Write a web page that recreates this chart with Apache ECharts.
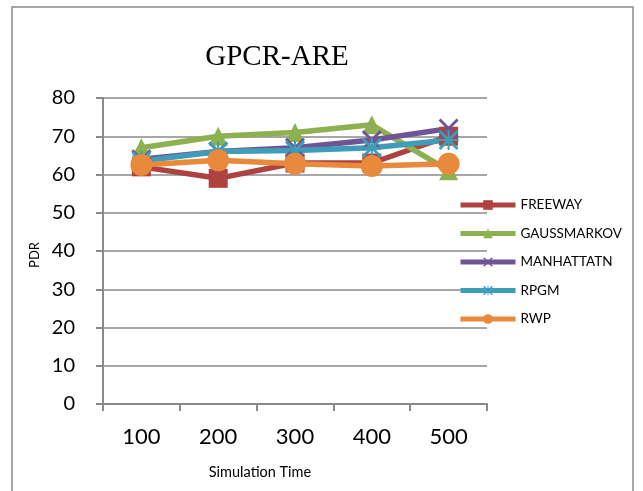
<!DOCTYPE html>
<html>
<head>
<meta charset="utf-8">
<script src="https://cdn.jsdelivr.net/npm/echarts@6/dist/echarts.min.js"></script>
<style>
  html, body { margin: 0; padding: 0; background: #fff; }
  #chart { width: 643px; height: 491px; }
</style>
</head>
<body>
<div id="chart"></div>
<script>
// Simulation time categories and PDR per mobility model
const categories = ['100', '200', '300', '400', '500'];
const freeway     = [62, 59, 63, 63, 70];
const gaussMarkov = [67, 70, 71, 73, 61];
const manhattan   = [64, 66, 67, 69, 72];
const rpgm        = [63.5, 66, 66.3, 67, 69];
const rwp         = [62.5, 63.7, 62.8, 62.2, 62.8];

const seriesNames = ['FREEWAY', 'GAUSSMARKOV', 'MANHATTATN', 'RPGM', 'RWP'];
const seriesData = [freeway, gaussMarkov, manhattan, rpgm, rwp];
const colors = ['#AE423F', '#8DB050', '#6F5595', '#3F9DB8', '#E8893B'];

// Marker shapes: square, triangle, X cross, asterisk, circle
const crossPath = 'path://M2,0 L10,8 L18,0 L20,2 L12,10 L20,18 L18,20 L10,12 L2,20 L0,18 L8,10 L0,2 Z';
const starPath = 'path://M2,0 L10,8 L18,0 L20,2 L12,10 L20,18 L18,20 L10,12 L2,20 L0,18 L8,10 L0,2 Z M9,0 L11,0 L11,20 L9,20 Z M0,9 L20,9 L20,11 L0,11 Z';
const symbols = ['rect', 'triangle', crossPath, starPath, 'circle'];
const symbolSizes = [19, 19, 20, 20, 22];

const chart = echarts.init(document.getElementById('chart'));

chart.setOption({
  animation: false,
  backgroundColor: '#fff',
  color: colors,
  title: {
    text: 'GPCR-ARE',
    left: 272,
    top: 38,
    textAlign: 'center',
    textStyle: {
      fontFamily: 'Liberation Serif',
      fontWeight: 'normal',
      fontSize: 29,
      color: '#000'
    }
  },
  graphic: [
    {
      type: 'rect',
      shape: { x: 12, y: 7, width: 621, height: 500 },
      style: { fill: 'none', stroke: '#8a8a8a', lineWidth: 1.5 },
      silent: true
    },
    {
      type: 'text',
      x: 260, y: 472,
      style: {
        text: 'Simulation Time',
        fontFamily: 'Lato',
        fontSize: 14.5,
        fill: '#000',
        align: 'center',
        verticalAlign: 'middle'
      }
    },
    {
      type: 'text',
      x: 35, y: 255,
      rotation: Math.PI / 2,
      style: {
        text: 'PDR',
        fontFamily: 'Lato',
        fontSize: 13,
        fill: '#000',
        align: 'center',
        verticalAlign: 'middle'
      }
    }
  ],
  legend: {
    orient: 'vertical',
    left: 458,
    top: 198,
    padding: 0,
    itemGap: 14.5,
    itemWidth: 55,
    itemHeight: 12,
    lineStyle: { width: 5 },
    data: seriesNames,
    textStyle: { fontFamily: 'Lato', fontSize: 13.5, color: '#000' }
  },
  grid: { left: 103, right: 156, top: 98, bottom: 87 },
  xAxis: {
    type: 'category',
    data: categories,
    boundaryGap: true,
    axisLine: { lineStyle: { color: '#8a8a8a', width: 2 } },
    axisTick: { show: true, inside: false, length: 7, lineStyle: { color: '#8a8a8a', width: 2 } },
    axisLabel: { fontFamily: 'Lato', fontSize: 22, color: '#000', margin: 22 },
    splitLine: { show: false }
  },
  yAxis: {
    type: 'value',
    min: 0,
    max: 80,
    interval: 10,
    axisLine: { show: true, lineStyle: { color: '#8a8a8a', width: 2 } },
    axisTick: { show: true, inside: false, length: 7, lineStyle: { color: '#8a8a8a', width: 2 } },
    axisLabel: { fontFamily: 'Lato', fontSize: 20, color: '#000', margin: 28 },
    splitLine: { show: true, lineStyle: { color: '#8a8a8a', width: 1.5 } }
  },
  series: seriesNames.map((name, i) => ({
    name: name,
    type: 'line',
    data: seriesData[i],
    symbol: symbols[i],
    symbolSize: symbolSizes[i],
    showAllSymbol: true,
    lineStyle: { width: 5.5, color: colors[i] },
    itemStyle: { color: colors[i] }
  }))
});
</script>
</body>
</html>
